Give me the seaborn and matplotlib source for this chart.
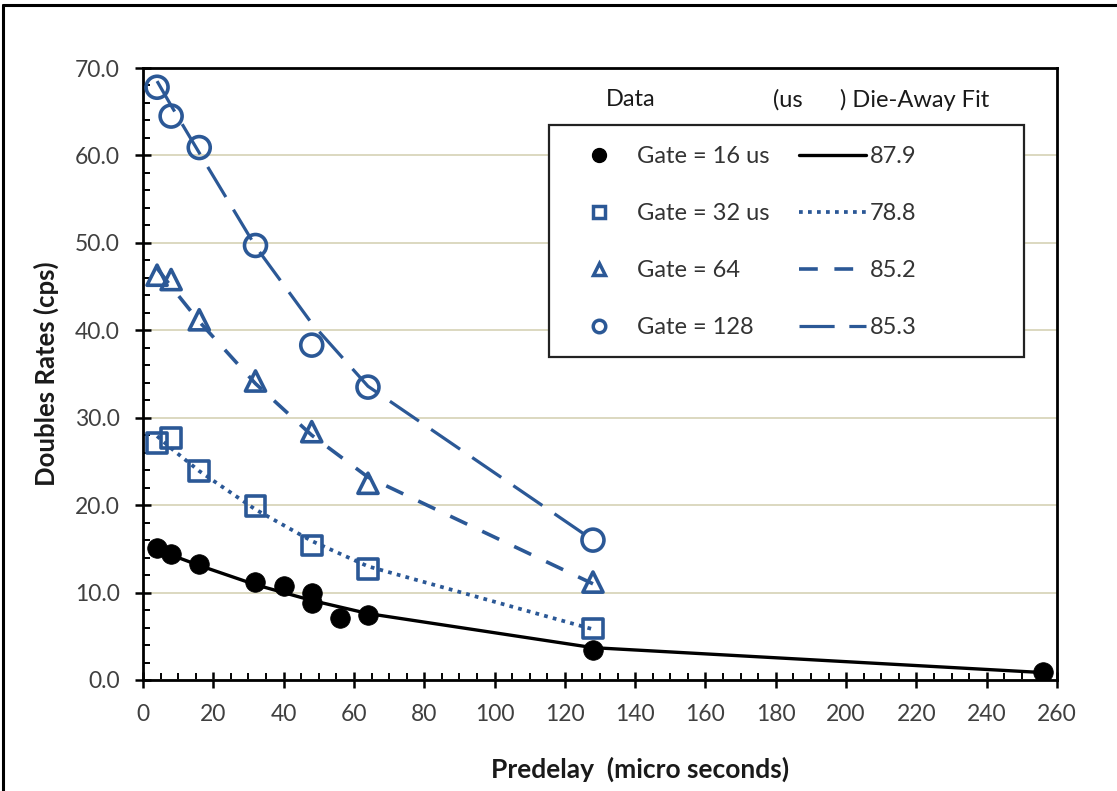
import numpy as np
import pandas as pd
import matplotlib
matplotlib.use("Agg")
import matplotlib.pyplot as plt
import seaborn as sns
from matplotlib.lines import Line2D
from matplotlib.patches import Rectangle
from matplotlib.ticker import MultipleLocator, FormatStrFormatter

# ---------------- data ----------------
x16 = [4, 8, 16, 32, 40, 48, 48, 56, 64, 128, 256]
y16 = [15.1, 14.4, 13.3, 11.2, 10.8, 9.9, 8.8, 7.1, 7.4, 3.4, 0.9]

x_gates = [4, 8, 16, 32, 48, 64, 128]
y32 = [27.1, 27.7, 23.9, 19.9, 15.4, 12.7, 5.9]
y64 = [46.3, 45.8, 41.2, 34.2, 28.4, 22.5, 11.2]
y128 = [67.8, 64.5, 60.9, 49.7, 38.3, 33.5, 16.0]

fit_x16 = [4, 8, 16, 32, 48, 64, 128, 256]
fit16 = [15.0, 14.3, 13.1, 10.9, 9.1, 7.6, 3.7, 0.85]
fit_x = [4, 8, 16, 32, 48, 64, 128]
fit32 = [27.9, 26.5, 23.9, 19.5, 15.9, 13.0, 5.8]
fit64 = [47.1, 45.0, 41.0, 33.9, 28.0, 23.2, 11.0]
fit128 = [68.5, 65.7, 60.3, 49.6, 40.8, 33.6, 16.0]

gate_labels = ["Gate = 16 us", "Gate = 32 us", "Gate = 64", "Gate = 128"]
tau_labels = ["87.9", "78.8", "85.2", "85.3"]

x_ticks = list(range(0, 261, 20))
y_ticks = [0, 10, 20, 30, 40, 50, 60, 70]

# ---------------- style ----------------
sns.set_style("white")
plt.rcParams["font.family"] = ["Lato", "DejaVu Sans"]

BLUE = "#2B5896"
BLACK = "#000000"
W, H = 1117, 791

fig = plt.figure(figsize=(W / 100, H / 100), dpi=100)
ax = fig.add_axes([143 / W, 1 - 680 / H, 914 / W, 612 / H])

LS32 = (0, (1, 1.4))
LS64 = (0, (5.2, 4.6))
LS128 = (0, (11, 4.6))

# fit lines
sns.lineplot(x=fit_x16, y=fit16, ax=ax, color=BLACK, lw=2.4, sort=False,
             estimator=None, zorder=2)
sns.lineplot(x=fit_x, y=fit32, ax=ax, color=BLUE, lw=2.7, linestyle=LS32,
             sort=False, estimator=None, zorder=2)
sns.lineplot(x=fit_x, y=fit64, ax=ax, color=BLUE, lw=2.6, linestyle=LS64,
             sort=False, estimator=None, zorder=2)
sns.lineplot(x=fit_x, y=fit128, ax=ax, color=BLUE, lw=2.3, linestyle=LS128,
             sort=False, estimator=None, zorder=2)

# data markers
sns.scatterplot(x=x16, y=y16, ax=ax, marker="o", s=200, color=BLACK,
                edgecolor=BLACK, linewidth=0.5, zorder=3)
sns.scatterplot(x=x_gates, y=y32, ax=ax, marker="s", s=200, facecolors="none",
                edgecolor=BLUE, linewidth=2.6, zorder=3)
sns.scatterplot(x=x_gates, y=y64, ax=ax, marker="^", s=210, facecolors="none",
                edgecolor=BLUE, linewidth=2.6, zorder=3)
sns.scatterplot(x=x_gates, y=y128, ax=ax, marker="o", s=250, facecolors="none",
                edgecolor=BLUE, linewidth=2.6, zorder=3)

# axes
ax.set_xlim(0, 260)
ax.set_ylim(0, 70)
ax.set_xticks(x_ticks)
ax.set_yticks(y_ticks)
ax.xaxis.set_minor_locator(MultipleLocator(5))
ax.yaxis.set_minor_locator(MultipleLocator(2))
ax.yaxis.set_major_formatter(FormatStrFormatter("%.1f"))
ax.tick_params(axis="both", which="major", direction="inout", length=11,
               width=1.8, color=BLACK, labelsize=16.5, labelcolor="#404040")
ax.tick_params(axis="both", which="minor", direction="in", length=5,
               width=1.4, color=BLACK)
ax.tick_params(axis="x", which="major", pad=12)
ax.tick_params(axis="y", which="major", pad=11)
ax.tick_params(left=True, bottom=True, which="both")
for sp in ax.spines.values():
    sp.set_visible(True)
    sp.set_color(BLACK)
    sp.set_linewidth(2.0)
ax.set_axisbelow(True)
ax.yaxis.grid(True, color="#dcd8c0", lw=1.4)
ax.xaxis.grid(False)

ax.set_xlabel("Predelay  (micro seconds)", fontsize=19, fontweight="bold",
              color="#1a1a1a")
ax.set_ylabel("Doubles Rates (cps)", fontsize=18.5, fontweight="bold",
              color="#1a1a1a")
ax.xaxis.set_label_coords(0.544, -0.125)
ax.yaxis.set_label_coords(-0.092, 0.5)

# legend (two columns: data markers, fit lines)
h_data = [
    Line2D([], [], ls="none", marker="o", ms=10, color=BLACK),
    Line2D([], [], ls="none", marker="s", ms=8.5, mfc="none", mec=BLUE, mew=2.5),
    Line2D([], [], ls="none", marker="^", ms=8.5, mfc="none", mec=BLUE, mew=2.5),
    Line2D([], [], ls="none", marker="o", ms=9, mfc="none", mec=BLUE, mew=2.5),
]
h_fit = [
    Line2D([], [], color=BLACK, lw=2.4),
    Line2D([], [], color=BLUE, lw=2.7, ls=LS32),
    Line2D([], [], color=BLUE, lw=2.6, ls=LS64),
    Line2D([], [], color=BLUE, lw=2.3, ls=LS128),
]
leg = ax.legend(handles=h_data + h_fit, labels=gate_labels + tau_labels,
                ncol=2, frameon=False, loc="upper left",
                bbox_to_anchor=((565 - 143) / 914, (680 - 146) / 612),
                handlelength=2.85, handletextpad=0.18, columnspacing=1.25,
                labelspacing=1.53, fontsize=17, borderpad=0.0,
                borderaxespad=0.0)
for t in leg.get_texts():
    t.set_color("#333333")

ax.add_patch(Rectangle(((549 - 143) / 914, (680 - 357) / 612),
                       (1024 - 549) / 914, (357 - 125) / 612,
                       transform=ax.transAxes, fill=True, facecolor="white",
                       edgecolor="#222222", lw=1.6, zorder=4))
leg.set_zorder(5)

fig.text(631 / W, 1 - 100 / H, "Data", ha="center", va="center",
         fontsize=17, color="#1a1a1a")
fig.text(773 / W, 1 - 100 / H, "(us", ha="left", va="center",
         fontsize=17, color="#1a1a1a")
fig.text(840 / W, 1 - 100 / H, ") Die-Away Fit", ha="left", va="center",
         fontsize=17, color="#1a1a1a")

# outer frame (top and left edges visible)
fig.add_artist(Line2D([3 / W, 1.0], [1 - 5 / H, 1 - 5 / H],
                      transform=fig.transFigure, color=BLACK, lw=2.2))
fig.add_artist(Line2D([3 / W, 3 / W], [0.0, 1 - 5 / H],
                      transform=fig.transFigure, color=BLACK, lw=2.2))

fig.savefig("out.png", dpi=100)
